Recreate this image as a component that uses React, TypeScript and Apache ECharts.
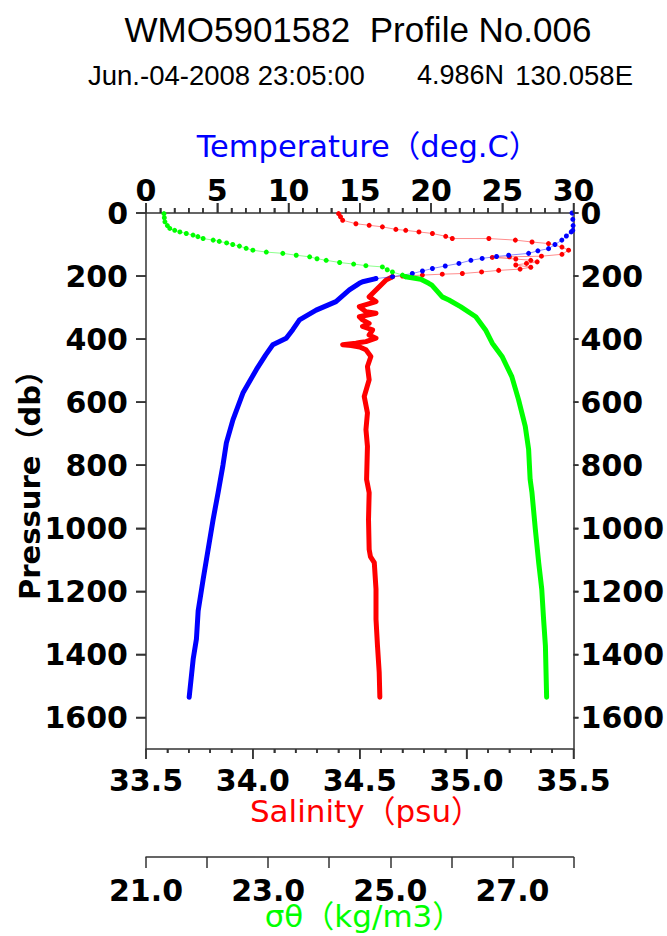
import React, { useEffect, useRef } from "react";
import * as echarts from "echarts";

// [pressure (db), temperature (deg.C)]
const temperatureUpper = [
  [0, 29.9], [20, 29.95], [40, 29.97], [55, 29.95], [60, 29.84], [73, 29.5], [86, 29.18],
  [100, 28.7], [113, 28.25], [120, 27.5], [128, 26.85], [134, 25.45], [138, 24.6],
  [144, 23.59], [150, 22.8], [160, 21.96], [168, 21.0], [176, 20.1], [184, 19.4],
  [192, 18.69], [202, 17.3], [208, 16.13],
];
const temperatureLower = [
  [208, 16.13], [218, 15.2], [223, 14.97], [244, 14.27], [281, 13.33], [308, 11.94],
  [339, 10.77], [370, 10.3], [397, 9.84], [418, 8.9], [450, 8.4], [497, 7.74], [571, 6.8],
  [656, 6.1], [729, 5.64], [800, 5.4], [887, 5.06], [972, 4.71], [1067, 4.36], [1162, 4.01],
  [1262, 3.66], [1351, 3.54], [1415, 3.31], [1536, 3.03],
];

// [pressure (db), salinity (psu)]
const salinityUpper = [
  [2, 34.401], [12, 34.41], [23, 34.42], [34, 34.482], [39, 34.544], [44, 34.606],
  [52, 34.669], [55, 34.715], [60, 34.777], [65, 34.84], [74, 34.902], [81, 34.933],
  [81, 35.104], [86, 35.228], [92, 35.306], [97, 35.383], [108, 35.446], [118, 35.477],
  [131, 35.446], [137, 35.35], [139, 35.2], [141, 35.12], [146, 35.23], [150, 35.3],
  [155, 35.33], [160, 35.28], [165, 35.23], [172, 35.3], [178, 35.25], [182, 35.15],
  [187, 35.07], [192, 34.98], [194, 34.886], [197, 34.793], [200, 34.7], [202, 34.653],
];
const salinityLower = [
  [202, 34.653], [213, 34.622], [244, 34.576], [266, 34.544], [281, 34.576], [297, 34.498],
  [313, 34.529], [318, 34.576], [329, 34.498], [339, 34.513], [350, 34.544], [360, 34.513],
  [371, 34.56], [387, 34.544], [397, 34.576], [408, 34.529], [411, 34.5], [413, 34.482],
  [418, 34.42], [420, 34.46], [425, 34.5], [434, 34.529], [455, 34.552], [487, 34.536],
  [529, 34.544], [582, 34.521], [634, 34.536], [687, 34.529], [740, 34.536], [845, 34.532],
  [887, 34.544], [972, 34.541], [1067, 34.544], [1090, 34.55], [1109, 34.568], [1193, 34.576],
  [1288, 34.576], [1373, 34.583], [1457, 34.591], [1536, 34.594],
];

// [pressure (db), sigma-theta (kg/m3)]
const sigmaUpper = [
  [2, 21.294], [15, 21.3], [28, 21.31], [40, 21.35], [49, 21.39], [55, 21.47], [60, 21.555],
  [65, 21.66], [70, 21.77], [75, 21.85], [81, 21.935], [86, 22.1], [90, 22.2], [95, 22.32],
  [100, 22.42], [105, 22.53], [112, 22.64], [118, 22.75], [124, 22.97], [128, 23.24],
  [134, 23.46], [139, 23.68], [145, 23.8], [150, 23.95], [157, 24.17], [162, 24.4],
  [167, 24.6], [171, 24.87], [180, 24.95], [187, 25.035], [197, 25.2], [202, 25.25],
];
const sigmaLower = [
  [202, 25.25], [210, 25.5], [223, 25.63], [229, 25.68], [255, 25.8], [266, 25.85],
  [276, 25.96], [297, 26.15], [329, 26.4], [371, 26.56], [413, 26.67], [455, 26.83],
  [519, 26.99], [592, 27.1], [677, 27.21], [750, 27.265], [845, 27.29], [887, 27.32],
  [1003, 27.375], [1109, 27.43], [1193, 27.48], [1288, 27.51], [1373, 27.54], [1536, 27.56],
];

// tick positions
const pressureTicks = [0, 200, 400, 600, 800, 1000, 1200, 1400, 1600];
const temperatureTicks = [
  0, 1, 2, 3, 4, 5, 6, 7, 8, 9, 10, 11, 12, 13, 14, 15, 16, 17, 18, 19, 20,
  21, 22, 23, 24, 25, 26, 27, 28, 29, 30,
];
const temperatureMajor = [0, 5, 10, 15, 20, 25, 30];
const salinityTicks = [
  33.5, 33.6, 33.7, 33.8, 33.9, 34.0, 34.1, 34.2, 34.3, 34.4, 34.5, 34.6, 34.7, 34.8, 34.9,
  35.0, 35.1, 35.2, 35.3, 35.4, 35.5,
];
const salinityMajor = [33.5, 34.0, 34.5, 35.0, 35.5];
const sigmaTicks = [21, 22, 23, 24, 25, 26, 27, 28];
const sigmaLabels = [21, 23, 25, 27];

const FONT = "'Liberation Sans', 'Noto Sans CJK JP', sans-serif";
const WIDE_FONT = "'DejaVu Sans', 'Noto Sans CJK JP', sans-serif";
const AXIS_COLOR = "#333";

const labelStyle = {
  color: "#000",
  fontSize: 30,
  fontWeight: "bold" as const,
  fontFamily: WIDE_FONT,
};

export default function App() {
  const ref = useRef<HTMLDivElement>(null);
  useEffect(() => {
    const chart = echarts.init(ref.current!, null, { renderer: "svg" });
    const toXY = (arr: number[][]) => arr.map(([p, v]) => [v, p]);
    const upper = (data: number[][], xi: number, color: string, light: string, z: number) => ({
      type: "line",
      xAxisIndex: xi,
      yAxisIndex: 0,
      data: toXY(data),
      symbol: "circle",
      symbolSize: 5,
      showSymbol: true,
      lineStyle: { width: 1, color: light },
      itemStyle: { color },
      z,
      silent: true,
    });
    const lower = (data: number[][], xi: number, color: string, z: number) => ({
      type: "line",
      xAxisIndex: xi,
      yAxisIndex: 0,
      data: toXY(data),
      symbol: "none",
      showSymbol: false,
      lineStyle: { width: 5, color, cap: "round", join: "round" },
      z,
      silent: true,
    });
    const ls = () => ({ color: AXIS_COLOR, width: 1.5 });
    chart.setOption({
      animation: false,
      backgroundColor: "#fff",
      grid: { left: 146, right: 92, top: 213, bottom: 187 },
      xAxis: [
        {
          type: "value",
          position: "top",
          min: 0,
          max: 30,
          interval: 5,
          axisLine: { show: true, onZero: false, lineStyle: ls() },
          axisTick: { show: true, length: 10, lineStyle: ls() },
          minorTick: { show: true, splitNumber: 5, length: 5, lineStyle: ls() },
          splitLine: { show: false },
          axisLabel: { ...labelStyle, margin: 8 },
        },
        {
          type: "value",
          position: "bottom",
          min: 33.5,
          max: 35.5,
          interval: 0.5,
          axisLine: { show: true, onZero: false, lineStyle: ls() },
          axisTick: { show: true, length: 10, lineStyle: ls() },
          minorTick: { show: true, splitNumber: 5, length: 4, lineStyle: ls() },
          splitLine: { show: false },
          axisLabel: { ...labelStyle, margin: 16, formatter: (v: number) => v.toFixed(1) },
        },
        {
          type: "value",
          position: "bottom",
          offset: 108,
          min: 21,
          max: 28,
          interval: 1,
          axisLine: { show: true, onZero: false, lineStyle: ls() },
          axisTick: { show: true, inside: false, length: 11, lineStyle: ls(), customValues: sigmaTicks },
          splitLine: { show: false },
          axisLabel: {
            ...labelStyle,
            margin: 18,
            customValues: sigmaLabels,
            formatter: (v: number) => v.toFixed(1),
          },
        },
      ],
      yAxis: [
        {
          type: "value",
          position: "left",
          inverse: true,
          min: 0,
          max: 1700,
          interval: 200,
          axisLine: { show: true, onZero: false, lineStyle: ls() },
          axisTick: { show: true, length: 10, lineStyle: ls(), customValues: pressureTicks },
          splitLine: { show: false },
          axisLabel: {
            ...labelStyle,
            margin: 18,
            customValues: pressureTicks,
            formatter: (v: number) => String(v),
          },
        },
        {
          type: "value",
          position: "right",
          inverse: true,
          min: 0,
          max: 1700,
          interval: 200,
          axisLine: { show: true, onZero: false, lineStyle: ls() },
          axisTick: { show: true, length: 5, lineStyle: ls(), customValues: pressureTicks },
          splitLine: { show: false },
          axisLabel: {
            ...labelStyle,
            margin: 7,
            customValues: pressureTicks,
            formatter: (v: number) => String(v),
          },
        },
      ],
      series: [
        upper(salinityUpper, 1, "#ff0000", "rgba(255,0,0,0.45)", 2),
        lower(salinityLower, 1, "#ff0000", 2),
        upper(temperatureUpper, 0, "#0000ff", "rgba(0,0,255,0.45)", 3),
        lower(temperatureLower, 0, "#0000ff", 3),
        upper(sigmaUpper, 2, "#00ff00", "rgba(0,255,0,0.45)", 4),
        lower(sigmaLower, 2, "#00ff00", 4),
      ],
    });

    // tick marks placed with the axes' own scales (drawn on top, in case the axis ticks are hidden)
    const grid = (chart as any).getModel().getComponent("grid", 0).coordinateSystem.getRect();
    const px = (xi: number, v: number) => {
      const r = chart.convertToPixel({ xAxisIndex: xi } as any, v as any) as any;
      return Array.isArray(r) ? r[0] : Number(r);
    };
    const py = (p: number) => {
      const r = chart.convertToPixel({ yAxisIndex: 0 } as any, p as any) as any;
      return Array.isArray(r) ? r[1] : Number(r);
    };
    const near = (v: number, list: number[]) => list.some((m) => Math.abs(m - v) < 1e-6);
    const tick = (x1: number, y1: number, x2: number, y2: number) => ({
      type: "line",
      silent: true,
      z: 100,
      shape: { x1, y1, x2, y2 },
      style: { stroke: AXIS_COLOR, lineWidth: 1.5 },
    });
    const yTop = grid.y;
    const yBottom = grid.y + grid.height;
    const xLeft = grid.x;
    const xRight = grid.x + grid.width;
    const ticks = [
      ...temperatureTicks.map((v) =>
        tick(px(0, v), yTop, px(0, v), yTop - (near(v, temperatureMajor) ? 10 : 5))
      ),
      ...salinityTicks.map((v) =>
        tick(px(1, v), yBottom, px(1, v), yBottom + (near(v, salinityMajor) ? 10 : 4))
      ),
      ...pressureTicks.map((p) => tick(xLeft, py(p), xLeft - 10, py(p))),
      ...pressureTicks.map((p) => tick(xRight, py(p), xRight + 5, py(p))),
    ];

    const texts = [
      {
        type: "text",
        x: 358,
        y: 29,
        style: {
          text: "WMO5901582  Profile No.006",
          fontSize: 35,
          fontFamily: FONT,
          fill: "#000",
          align: "center",
          verticalAlign: "middle",
        },
      },
      {
        type: "text",
        x: 88,
        y: 75,
        style: { text: "Jun.-04-2008 23:05:00", fontSize: 27.5, fontFamily: FONT, fill: "#000", align: "left", verticalAlign: "middle" },
      },
      {
        type: "text",
        x: 417,
        y: 75,
        style: { text: "4.986N", fontSize: 27, fontFamily: FONT, fill: "#000", align: "left", verticalAlign: "middle" },
      },
      {
        type: "text",
        x: 633,
        y: 75,
        style: { text: "130.058E", fontSize: 27.5, fontFamily: FONT, fill: "#000", align: "right", verticalAlign: "middle" },
      },
      {
        type: "text",
        x: 368,
        y: 146,
        style: { text: "Temperature（deg.C）", fontSize: 30.5, fontFamily: WIDE_FONT, fill: "#0000ff", align: "center", verticalAlign: "middle" },
      },
      {
        type: "text",
        x: 366,
        y: 811,
        style: { text: "Salinity（psu）", fontSize: 31, fontFamily: WIDE_FONT, fill: "#ff0000", align: "center", verticalAlign: "middle", lineHeight: 28 },
      },
      {
        type: "text",
        x: 364,
        y: 916,
        style: { text: "σθ（kg/m3）", fontSize: 31, fontFamily: WIDE_FONT, fill: "#00ff00", align: "center", verticalAlign: "middle", lineHeight: 28 },
      },
      {
        type: "text",
        x: 30,
        y: 478,
        rotation: Math.PI / 2,
        style: {
          text: "Pressure（db）",
          fontSize: 29,
          fontWeight: "bold",
          fontFamily: WIDE_FONT,
          fill: "#000",
          align: "center",
          verticalAlign: "middle",
        },
      },
    ];

    chart.setOption({ graphic: [...texts, ...ticks] });
    return () => chart.dispose();
  }, []);
  return (
    <div
      ref={ref}
      style={{ position: "absolute", left: 0, top: 0, width: 667, height: 936 }}
    />
  );
}
